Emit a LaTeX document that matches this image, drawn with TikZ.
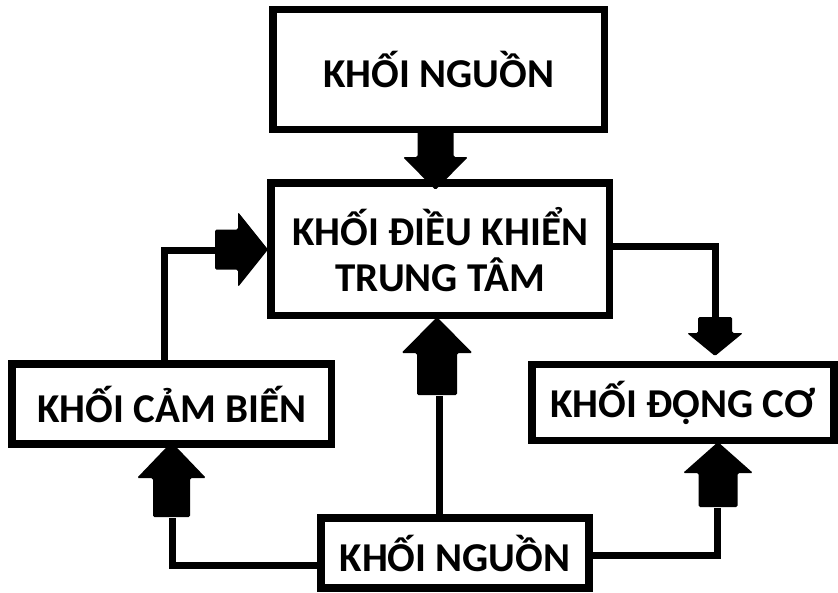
\documentclass[tikz,border=0pt]{standalone}
\usepackage{fontspec}
\setmainfont{Carlito}
\newcommand\fatarr[6]{%
  \fill[black,rounded corners=1.5pt,shift={(#1)},rotate=#2]
    (0,0) -- (-#5,#6) -- (-#5,#4) -- ({-#5-#3},#4) -- ({-#5-#3},-#4)
    -- (-#5,-#4) -- (-#5,-#6) -- cycle;}
\begin{document}
\begin{tikzpicture}[x=1pt,y=1pt,
  blk/.style={draw=black,line width=7.5pt,inner sep=0pt,align=center,
    font=\fontsize{41}{46}\selectfont\bfseries},
  conn/.style={draw=black,line width=7pt}]
\useasboundingbox (0,0) rectangle (838,-592);
\node[blk,minimum width=331.5pt,minimum height=120pt] (top) at (438.75,-69.5) {KHỐI NGUỒN};
\node[blk,minimum width=338.5pt,minimum height=132.5pt] (ctrl) at (440.25,-249.25) {KHỐI ĐIỀU KHIỂN\\TRUNG TÂM};
\node[blk,minimum width=319.5pt,minimum height=80pt] (sens) at (171.75,-404) {KHỐI CẢM BIẾN};
\node[blk,minimum width=302pt,minimum height=76pt] (motor) at (683,-402.5) {KHỐI ĐỘNG CƠ};
\node[blk,minimum width=268pt,minimum height=70pt] (pwr) at (455,-553) {KHỐI NGUỒN};
% coordinates
\coordinate (lc) at (164.5,-250);
\coordinate (ls) at (216,-250);
\coordinate (rc) at (715,-246.5);
\coordinate (rs) at (715,-318);
\coordinate (mc) at (439.5,-396);
\coordinate (blc) at (172,-565);
\coordinate (bls) at (172,-518);
\coordinate (brc) at (717,-555);
\coordinate (brs) at (717,-508);
% connectors
\draw[conn] (lc |- sens.north) -- (lc) -- (ls);
\draw[conn] (ctrl.east |- rc) -- (rc) -- (rs);
\draw[conn] (mc |- pwr.north) -- (mc);
\draw[conn] (pwr.west |- blc) -- (blc) -- (bls);
\draw[conn] (pwr.east |- brc) -- (brc) -- (brs);
% block arrows
\coordinate (t1) at (435.5,-190);
\coordinate (t2) at (268,-249.5);
\coordinate (t3) at (715,-356);
\coordinate (t4) at (437,-317);
\coordinate (t5) at (171.5,-442);
\coordinate (t6) at (718,-442);
\fatarr{t1}{-90}{28}{18}{33}{32.5}
\fatarr{t2}{0}{23}{20}{30}{37.5}
\fatarr{t3}{-90}{16}{17}{23}{28}
\fatarr{t4}{90}{42}{20}{36}{35.5}
\fatarr{t5}{90}{39}{18.5}{36}{34.5}
\fatarr{t6}{90}{34}{19.5}{31}{35}
\end{tikzpicture}
\end{document}
